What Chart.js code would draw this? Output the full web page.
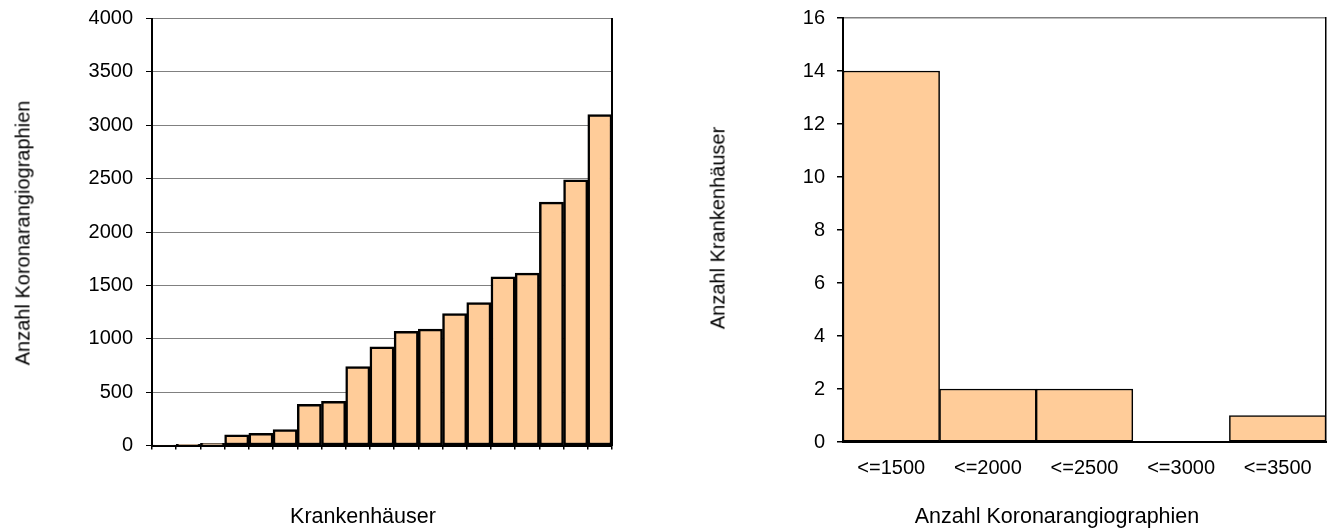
<!DOCTYPE html>
<html>
<head>
<meta charset="utf-8">
<script src="https://cdn.jsdelivr.net/npm/chart.js@4.4.1/dist/chart.umd.min.js"></script>
<style>
  html, body { margin: 0; padding: 0; background: #fff; }
  body { width: 1331px; height: 530px; position: relative; overflow: hidden; font-family: "Liberation Sans", Arial, sans-serif; }
  canvas { position: absolute; top: 0; }
  .t { position: absolute; white-space: nowrap; color: #000; line-height: 1.15; }
  .h { transform: translate(-50%, -50%); font-size: 21.5px; }
  .v { transform: translate(-50%, -50%) rotate(-90deg); font-size: 20px; }
</style>
</head>
<body>
<canvas id="c1" width="640" height="530" style="left:0px"></canvas>
<canvas id="c2" width="641" height="530" style="left:690px"></canvas>
<div class="t v" style="left:23px; top:233px">Anzahl Koronarangiographien</div>
<div class="t h" style="left:363px; top:516px">Krankenhäuser</div>
<div class="t v" style="left:718px; top:228px">Anzahl Krankenhäuser</div>
<div class="t h" style="left:1057px; top:516px">Anzahl Koronarangiographien</div>
<script>
// ---- data ----
const hospitalLabels = ['KH 1','KH 2','KH 3','KH 4','KH 5','KH 6','KH 7','KH 8','KH 9','KH 10',
                        'KH 11','KH 12','KH 13','KH 14','KH 15','KH 16','KH 17','KH 18','KH 19'];
const angioCounts = [5, 10, 20, 100, 115, 150, 385, 415, 740, 925,
                     1070, 1090, 1235, 1340, 1580, 1615, 2280, 2490, 3100];
const histLabels = ['<=1500', '<=2000', '<=2500', '<=3000', '<=3500'];
const histCounts = [14, 2, 2, 0, 1];

const FILL = '#FFCC99';
const FONT = { family: '"Liberation Sans", Arial, sans-serif', size: 20 };
Chart.defaults.color = '#000';

function fixW(w) { return s => { s.width = w; s.paddingTop = 0; s.paddingBottom = 0; }; }
function fixH(h) { return s => { s.height = h; }; }
const plain = v => String(v);

// ---- left chart ----
new Chart(document.getElementById('c1'), {
  type: 'bar',
  data: {
    labels: hospitalLabels,
    datasets: [{
      data: angioCounts,
      backgroundColor: FILL,
      borderColor: '#000',
      borderWidth: 2.5,
      borderSkipped: false,
      barPercentage: 1,
      categoryPercentage: 1
    }]
  },
  options: {
    responsive: false,
    animation: false,
    events: [],
    layout: { padding: { left: 0, right: 28, top: 18.6, bottom: 0 } },
    plugins: { legend: { display: false }, tooltip: { enabled: false } },
    scales: {
      x: {
        ticks: { display: false },
        grid: { drawOnChartArea: false, drawTicks: true, tickLength: 4, color: '#000', lineWidth: 1.5, offset: true },
        border: { color: '#000', width: 2 },
        afterFit: fixH(530 - 445.5)
      },
      y: {
        min: 0, max: 4000,
        ticks: { stepSize: 500, font: FONT, padding: 13, color: '#000', callback: plain },
        grid: { color: '#808080', lineWidth: 1, tickLength: 6, tickColor: '#000' },
        border: { color: '#000', width: 2 },
        afterFit: fixW(152)
      },
      yr: {
        position: 'right',
        ticks: { display: false },
        grid: { display: false, drawTicks: false, tickLength: 0 },
        border: { display: true, color: '#000', width: 2 },
        afterFit: fixW(0)
      }
    }
  }
});

// ---- right chart ----
new Chart(document.getElementById('c2'), {
  type: 'bar',
  data: {
    labels: histLabels,
    datasets: [{
      data: histCounts,
      backgroundColor: FILL,
      borderColor: '#000',
      borderWidth: 1.5,
      borderSkipped: false,
      barPercentage: 1,
      categoryPercentage: 1
    }]
  },
  options: {
    responsive: false,
    animation: false,
    events: [],
    layout: { padding: { left: 0, right: 5, top: 18, bottom: 0 } },
    plugins: { legend: { display: false }, tooltip: { enabled: false } },
    scales: {
      x: {
        ticks: { font: FONT, padding: 14, color: '#000', maxRotation: 0, autoSkip: false },
        grid: { display: false, drawTicks: false, tickLength: 0 },
        border: { color: '#000', width: 2 },
        afterFit: fixH(530 - 442)
      },
      y: {
        min: 0, max: 16,
        ticks: { stepSize: 2, font: FONT, padding: 12, color: '#000', callback: plain },
        grid: {
          color: ctx => (ctx.tick && ctx.tick.value === 16 ? '#808080' : 'rgba(0,0,0,0)'),
          lineWidth: 1.5, tickLength: 6, tickColor: '#000'
        },
        border: { color: '#000', width: 2 },
        afterFit: fixW(153)
      },
      yr: {
        position: 'right',
        ticks: { display: false },
        grid: { display: false, drawTicks: false, tickLength: 0 },
        border: { display: true, color: '#000', width: 1.5 },
        afterFit: fixW(0)
      }
    }
  }
});
</script>
</body>
</html>
